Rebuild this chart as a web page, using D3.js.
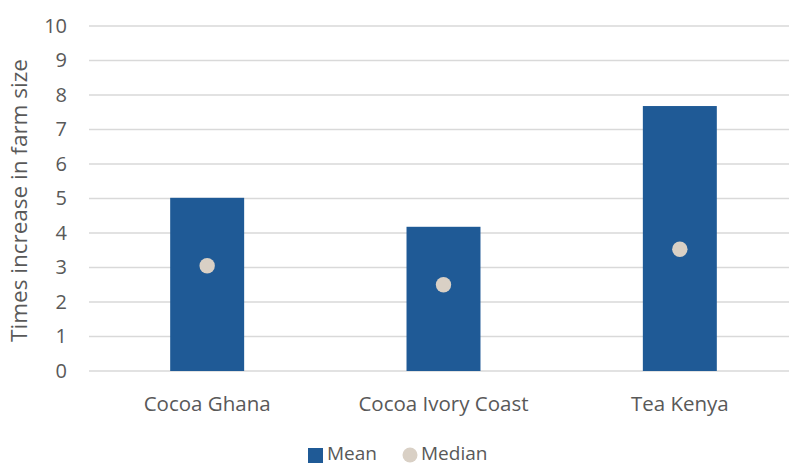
<!DOCTYPE html>
<html><head><meta charset="utf-8">
<script src="https://cdn.jsdelivr.net/npm/d3@7"></script>
<style>body{margin:0;background:#fff}svg{display:block}</style>
</head><body>
<svg id="c" width="789" height="465"></svg>
<script>
const categories = ["Cocoa Ghana", "Cocoa Ivory Coast", "Tea Kenya"];
const meanValues = [5.02, 4.18, 7.68];
const medianValues = [3.05, 2.5, 3.53];
const yTicks = [0,1,2,3,4,5,6,7,8,9,10];
const yTitle = "Times increase in farm size";

const svg = d3.select("#c");
const font = "'Open Sans', sans-serif";
const textColor = "#595959";
const mLeft = 89, mRight = 798, mTop = 26, mBottom = 371;

const x = d3.scaleBand().domain(categories).range([mLeft, mRight]).paddingInner(0.687).paddingOuter(0.3435);
const y = d3.scaleLinear().domain([0, 10]).range([mBottom, mTop]);

// gridlines
svg.append("g").selectAll("line").data(yTicks).join("line")
  .attr("x1", mLeft).attr("x2", 789)
  .attr("y1", d => y(d)).attr("y2", d => y(d))
  .attr("stroke", "#d9d9d9").attr("stroke-width", 1.3);

// y axis labels
const yAxis = d3.axisLeft(y).tickValues(yTicks).tickSize(0).tickPadding(0);
const ga = svg.append("g").attr("transform", `translate(${67},0)`).call(yAxis);
ga.select(".domain").remove();
ga.selectAll("text").attr("font-family", font).attr("font-size", 20).attr("fill", textColor);

// bars
svg.append("g").selectAll("rect").data(categories).join("rect")
  .attr("x", d => x(d)).attr("width", x.bandwidth())
  .attr("y", (d,i) => y(meanValues[i])).attr("height", (d,i) => y(0) - y(meanValues[i]))
  .attr("fill", "#1f5a96");

// median dots
svg.append("g").selectAll("circle").data(categories).join("circle")
  .attr("cx", d => x(d) + x.bandwidth()/2)
  .attr("cy", (d,i) => y(medianValues[i]))
  .attr("r", 7.7).attr("fill", "#d9d0c5");

// x axis labels
const xAxis = d3.axisBottom(x).tickSize(0).tickPadding(0);
const gx = svg.append("g").attr("transform", `translate(0,${mBottom})`).call(xAxis);
gx.select(".domain").remove();
gx.selectAll("text").attr("font-family", font).attr("font-size", 20.5).attr("fill", textColor)
  .attr("dy", null).attr("y", 40);

// y title
svg.append("text").attr("transform", `translate(27,${(mTop+mBottom)/2+2}) rotate(-90)`)
  .attr("text-anchor", "middle").attr("font-family", font).attr("font-size", 22.5).attr("fill", textColor)
  .text(yTitle);

// legend
const lg = svg.append("g");
lg.append("rect").attr("x", 308).attr("y", 448).attr("width", 15).attr("height", 15).attr("fill", "#1f5a96");
lg.append("text").attr("x", 327).attr("y", 460).attr("font-family", font).attr("font-size", 19).attr("fill", textColor).text("Mean");
lg.append("circle").attr("cx", 410).attr("cy", 455).attr("r", 7.5).attr("fill", "#d9d0c5");
lg.append("text").attr("x", 421).attr("y", 460).attr("font-family", font).attr("font-size", 19).attr("fill", textColor).text("Median");
</script>
</body></html>
